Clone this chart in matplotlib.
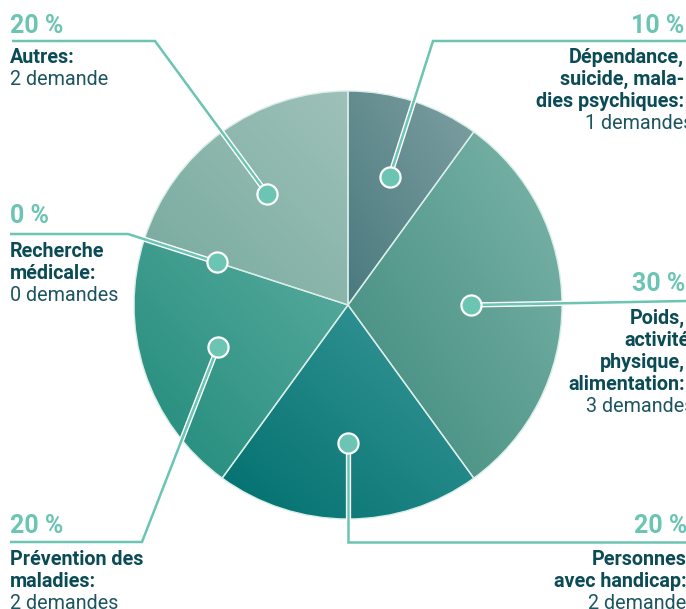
import numpy as np
import matplotlib
matplotlib.use("Agg")
import matplotlib.pyplot as plt
import matplotlib.patheffects as pe
from matplotlib.colors import to_rgb

# ---- data ----
categories = ["Dépendance, suicide, maladies psychiques",
              "Poids, activité physique, alimentation",
              "Personnes avec handicap",
              "Prévention des maladies",
              "Recherche médicale",
              "Autres"]
values = [1, 3, 2, 2, 0, 2]
pct_labels = ["10 %", "30 %", "20 %", "20 %", "0 %", "20 %"]
name_lines = [["Dépendance,", "suicide, mala-", "dies psychiques:"],
              ["Poids,", "activité", "physique,", "alimentation:"],
              ["Personnes", "avec handicap:"],
              ["Prévention des", "maladies:"],
              ["Recherche", "médicale:"],
              ["Autres:"]]
count_labels = ["1 demandes", "3 demandes", "2 demandes", "2 demandes",
                "0 demandes", "2 demande"]

# ---- style ----
dark_cols = ["#4a7a7e", "#3e897c", "#00706e", "#1f8a7a", "#000000", "#76a99d"]
light_cols = ["#7e9fa2", "#7db5aa", "#3c989a", "#5aac9f", "#000000", "#9ec1b9"]
accent = "#6cc4b3"
text_dark = "#0b4b56"
W, H = 686, 609
cx, cy, R = 348, 305, 214
dot_r = [0.63, 0.575, 0.645, 0.64, 0.645, 0.64]

fig = plt.figure(figsize=(W / 100, H / 100), dpi=100)
ax = fig.add_axes([0, 0, 1, 1])

wedges, _ = ax.pie(values, center=(cx, cy), radius=R, startangle=-90,
                   counterclock=True, frame=True)

n = 200
for w, v, dc, lc in zip(wedges, values, dark_cols, light_cols):
    if v == 0:
        w.set_visible(False)
        continue
    verts = w.get_path().vertices
    x0, x1 = verts[:, 0].min(), verts[:, 0].max()
    y0, y1 = verts[:, 1].min(), verts[:, 1].max()
    jj, ii = np.meshgrid(np.linspace(0, 1, n), np.linspace(0, 1, n))
    t = (jj + (1 - ii)) / 2
    d = np.array(to_rgb(dc)); l = np.array(to_rgb(lc))
    img = d[None, None, :] + t[..., None] * (l - d)[None, None, :]
    im = ax.imshow(img, extent=(x0, x1, y1, y0), origin="upper",
                   interpolation="bilinear", zorder=1)
    im.set_clip_path(w)
    w.set_facecolor("none")
    w.set_edgecolor("#d9eee9")
    w.set_linewidth(1.0)
    w.set_zorder(2)

# dot positions from data
total = sum(values)
cum = np.cumsum(values)
mids = 360 * (cum - np.array(values) / 2) / total
dots = []
for th, rf in zip(mids, dot_r):
    r = np.radians(th)
    dots.append((cx + rf * R * np.sin(r), cy - rf * R * np.cos(r)))

# leader lines (layout)
leaders = [
    [(686, 41), (433, 41), dots[0]],
    [(686, 301), dots[1]],
    [(686, 542), (dots[2][0], 542), dots[2]],
    [(10, 542), (142, 542), dots[3]],
    [(10, 234), (128, 234), dots[4]],
    [(12, 41), (155, 41), dots[5]],
]
for pts in leaders:
    xs, ys = zip(*pts)
    ax.plot(xs, ys, color=accent, lw=1.8, zorder=4, solid_capstyle="butt",
            solid_joinstyle="miter",
            path_effects=[pe.Stroke(linewidth=3.8, foreground="white"), pe.Normal()])
for (x, y) in dots:
    ax.plot(x, y, "o", ms=14.5, mfc=accent, mec="white", mew=1.6, zorder=5)

font = ["Roboto", "DejaVu Sans"]
pct_fs = 18
lab_fs = 14.2
lh = 22

blocks = [
    (684, "right", 33, 63),
    (685, "right", 291, 324),
    (687, "right", 533, 565),
    (10, "left", 533, 565),
    (10, "left", 223, 257),
    (10, "left", 33, 63),
]
for i, (x, ha, pb, lb) in enumerate(blocks):
    ax.text(x, pb, pct_labels[i], ha=ha, va="baseline", fontsize=pct_fs,
            color=accent, family=font, fontweight="bold", zorder=6)
    y = lb
    for ln in name_lines[i]:
        xx = x
        if ha == "right" and ln == "activité":
            xx = x + 5
        ax.text(xx, y, ln, ha=ha, va="baseline", fontsize=lab_fs,
                color=text_dark, family=font, fontweight="bold", zorder=6)
        y += lh
    xr = x + 9 if ha == "right" else x
    ax.text(xr, y, count_labels[i], ha=ha, va="baseline", fontsize=lab_fs,
            color="#1c5560", family=font, zorder=6)

ax.set_xlim(0, W)
ax.set_ylim(H, 0)
ax.set_aspect("equal")
ax.axis("off")
fig.savefig("out.png", dpi=100)
